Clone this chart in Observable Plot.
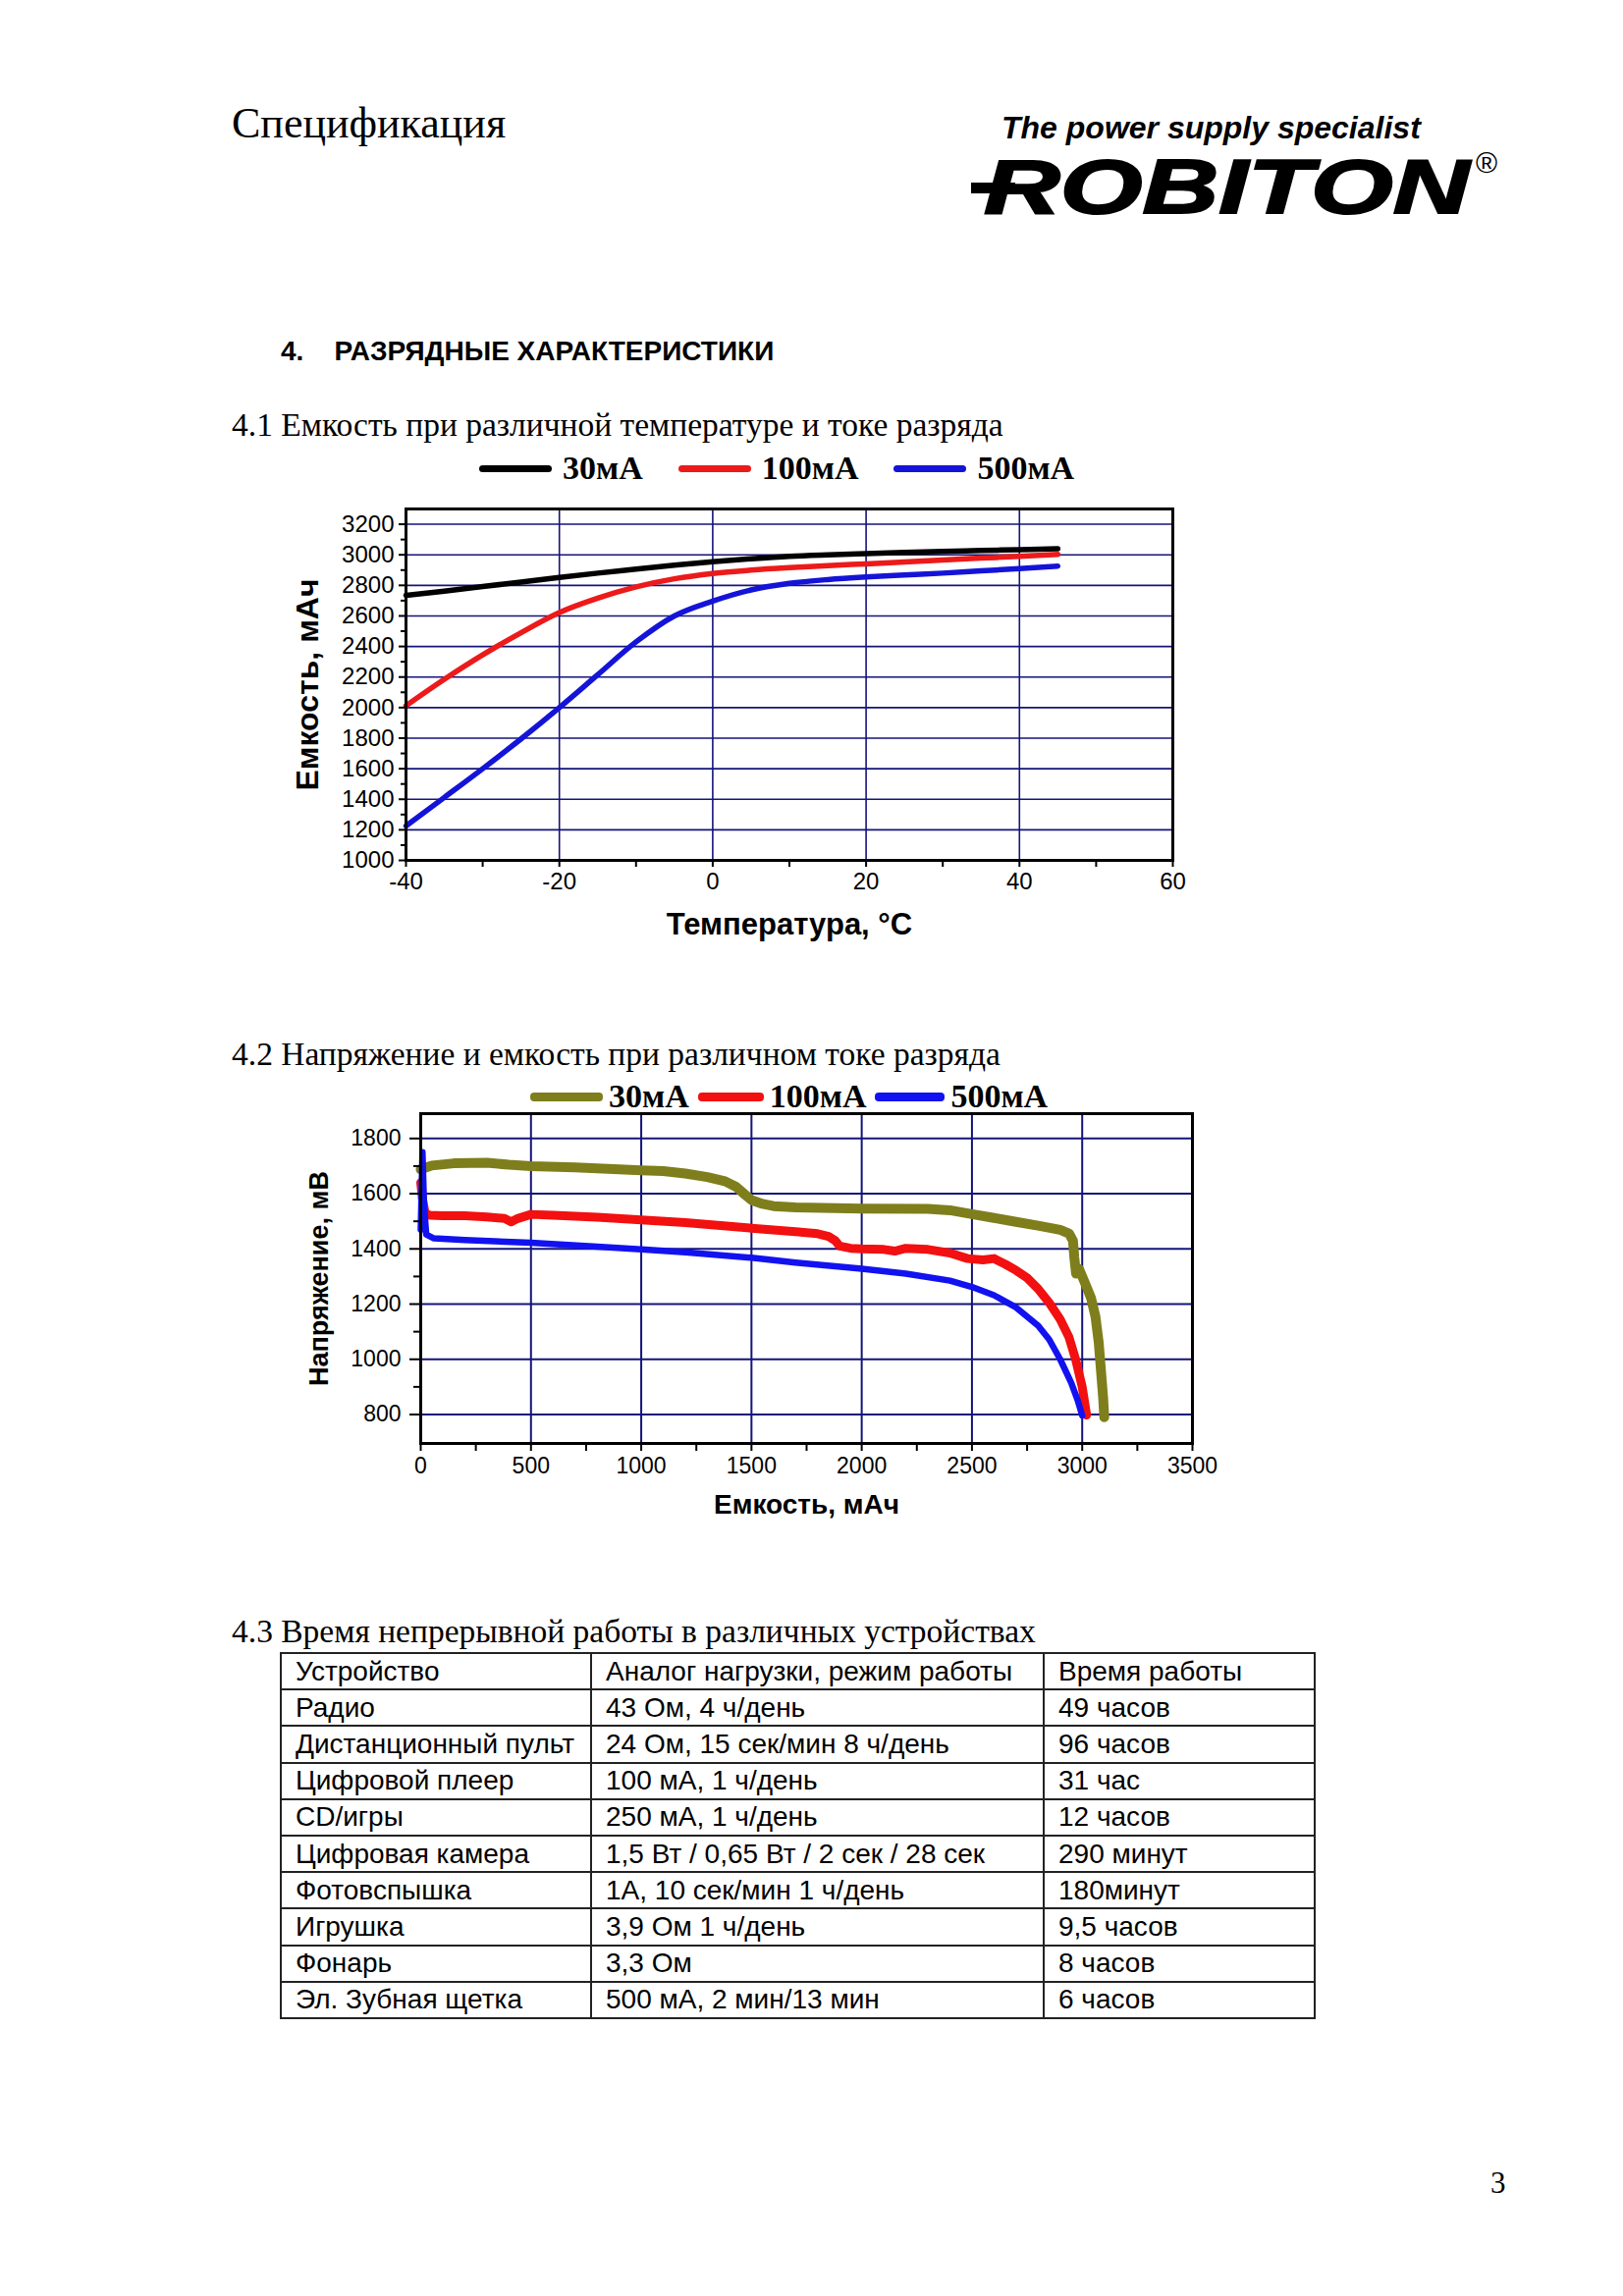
<!DOCTYPE html>
<html><head><meta charset="utf-8">
<script src="https://cdn.jsdelivr.net/npm/d3@7"></script>
<script src="https://cdn.jsdelivr.net/npm/@observablehq/plot@0.6"></script>
<style>
body{margin:0;background:#fff;}
#page{position:relative;width:1653px;height:2339px;background:#fff;overflow:hidden;color:#000;}
.abs{position:absolute;white-space:nowrap;line-height:1;}
.serif{font-family:"Liberation Serif","Times New Roman",serif;}
.sans{font-family:"Liberation Sans",Arial,sans-serif;}
.legend{position:absolute;display:flex;align-items:center;font-family:"Liberation Serif","Times New Roman",serif;font-weight:bold;font-size:34px;line-height:1;}
.legend .sw{border-radius:4px;}
.chart{position:absolute;}
table.dev{position:absolute;border-collapse:collapse;font-family:"Liberation Sans",Arial,sans-serif;font-size:28px;}
table.dev td{border:2px solid #222;height:37.2px;padding:0 0 0 14px;line-height:1;white-space:nowrap;vertical-align:middle;box-sizing:border-box;}
</style></head>
<body><div id="page">
<div class="abs serif" style="left:236px;top:104px;font-size:44px;">Спецификация</div>
<div class="abs sans" style="left:1020px;top:114px;font-size:32px;font-weight:bold;font-style:italic;">The power supply specialist</div>
<div class="abs" style="left:989px;top:186px;width:45px;height:11px;background:#000;"></div>
<div class="abs sans" style="left:1002px;top:151px;font-size:78px;font-weight:900;font-style:italic;transform:scaleX(1.38);transform-origin:left top;-webkit-text-stroke:2px #000;">ROBITON</div>
<div class="abs sans" style="left:1503px;top:151px;font-size:30px;">®</div>
<div class="abs sans" style="left:286px;top:344px;font-size:28px;font-weight:bold;">4.&nbsp;&nbsp;&nbsp;&nbsp;РАЗРЯДНЫЕ ХАРАКТЕРИСТИКИ</div>
<div class="abs serif" style="left:236px;top:416px;font-size:33.5px;">4.1 Емкость при различной температуре и токе разряда</div>
<div class="abs serif" style="left:236px;top:1057px;font-size:33.5px;">4.2 Напряжение и емкость при различном токе разряда</div>
<div class="abs serif" style="left:236px;top:1645px;font-size:33.5px;">4.3 Время непрерывной работы в различных устройствах</div>
<div class="abs serif" style="left:1518px;top:2208px;font-size:31px;">3</div>
<div id="legend1" class="legend" style="left:488px;top:460px;"></div>
<div id="chart1" class="chart" style="left:280px;top:490px;"></div>
<div id="legend2" class="legend" style="left:540px;top:1100px;"></div>
<div id="chart2" class="chart" style="left:280px;top:1124px;"></div>
<table class="dev" id="devtable" style="left:285px;top:1683px;"></table>
</div>
<script>
// ---------- Chart 4.1 data ----------
const temperature = [-40,-35,-30,-25,-20,-15,-10,-5,0,5,10,15,20,25,30,35,40,45];
const cap30mA  = [2735,2762,2792,2822,2852,2880,2906,2932,2955,2974,2990,3000,3008,3015,3022,3028,3034,3040];
const cap100mA = [2012,2185,2345,2490,2622,2716,2790,2843,2878,2900,2916,2929,2941,2953,2966,2978,2990,3003];
const cap500mA = [1225,1412,1600,1795,2000,2215,2430,2600,2697,2770,2813,2838,2855,2868,2880,2895,2910,2926];
const series = ["30мА","100мА","500мА"];
const colors1 = ["#000000","#ec1a1a","#1414d8"];
const xTicks1 = [-40,-20,0,20,40,60];
const xMinor1 = [-30,-10,10,30,50];
const yTicks1 = [1000,1200,1400,1600,1800,2000,2200,2400,2600,2800,3000,3200];
const yMinor1 = [1100,1300,1500,1700,1900,2100,2300,2500,2700,2900,3100];
const xLabel1 = "Температура, °C";
const yLabel1 = "Емкость, мАч";

// ---------- Chart 4.2 data ----------
const cap30x  = [0,50,150,300,400,500,700,900,1000,1100,1200,1300,1380,1430,1470,1500,1550,1600,1700,2000,2300,2400,2500,2600,2700,2800,2900,2940,2958,2964,2972,2985,3000,3020,3040,3060,3075,3085,3095,3100];
const volt30  = [1688,1702,1710,1712,1705,1700,1695,1688,1685,1682,1673,1660,1645,1625,1597,1577,1563,1555,1550,1546,1545,1540,1526,1512,1498,1484,1469,1456,1430,1370,1310,1328,1300,1262,1222,1155,1060,960,860,790];
const cap100x = [0,8,20,40,100,200,300,380,410,440,500,600,800,1000,1200,1400,1500,1700,1800,1850,1880,1900,1950,2000,2100,2150,2200,2300,2400,2480,2550,2600,2650,2700,2750,2800,2850,2900,2940,2970,3000,3020];
const volt100 = [1640,1580,1530,1522,1520,1520,1516,1510,1498,1510,1525,1522,1515,1505,1495,1482,1475,1462,1455,1445,1430,1410,1402,1400,1398,1392,1402,1398,1385,1365,1360,1365,1345,1322,1295,1255,1205,1145,1080,1000,900,798];
const cap500x = [0,8,15,25,60,200,500,800,1000,1200,1500,1700,2000,2200,2400,2500,2600,2700,2800,2850,2900,2950,2980,3000];
const volt500 = [1470,1750,1560,1452,1438,1432,1422,1408,1398,1388,1368,1350,1328,1310,1285,1262,1232,1188,1122,1072,1000,915,850,796];
const colors2 = ["#7e7e1c","#f21010","#1212f0"];
const xTicks2 = [0,500,1000,1500,2000,2500,3000,3500];
const xMinor2 = [250,750,1250,1750,2250,2750,3250];
const yTicks2 = [800,1000,1200,1400,1600,1800];
const yMinor2 = [900,1100,1300,1500,1700];
const xLabel2 = "Емкость, мАч";
const yLabel2 = "Напряжение, мВ";

// ---------- Table data ----------
const tableHeader = ["Устройство","Аналог нагрузки, режим работы","Время работы"];
const devices = ["Радио","Дистанционный пульт","Цифровой плеер","CD/игры","Цифровая камера","Фотовспышка","Игрушка","Фонарь","Эл. Зубная щетка"];
const loads = ["43 Ом, 4 ч/день","24 Ом, 15 сек/мин 8 ч/день","100 мА, 1 ч/день","250 мА, 1 ч/день","1,5 Вт / 0,65 Вт / 2 сек / 28 сек","1А, 10 сек/мин 1 ч/день","3,9 Ом 1 ч/день","3,3 Ом","500 мА, 2 мин/13 мин"];
const runtimes = ["49 часов","96 часов","31 час","12 часов","290 минут","180минут","9,5 часов","8 часов","6 часов"];

// ---------- helpers ----------
const tickFont = '"Liberation Sans", Arial, sans-serif';
const gridColor = "#14147a";

function legend(el, colors, swWidths, swH, gapText, gapItem) {
  series.forEach((s, i) => {
    const item = document.createElement("div");
    item.style.display = "flex"; item.style.alignItems = "center";
    item.style.marginRight = gapItem + "px";
    const sw = document.createElement("div");
    sw.className = "sw";
    sw.style.width = swWidths[i] + "px"; sw.style.height = swH + "px"; sw.style.background = colors[i];
    sw.style.marginRight = gapText + "px";
    const t = document.createElement("span"); t.textContent = s;
    item.appendChild(sw); item.appendChild(t);
    el.appendChild(item);
  });
}

// ---------- Chart 1 ----------
const rows1 = temperature.flatMap((t, i) => [
  {t, v: cap30mA[i], s: series[0]},
  {t, v: cap100mA[i], s: series[1]},
  {t, v: cap500mA[i], s: series[2]}
]);
const chart1 = Plot.plot({
  width: 960, height: 480,
  marginLeft: 133, marginRight: 46, marginTop: 28, marginBottom: 94,
  x: {domain: [-40, 60], label: null},
  y: {domain: [1000, 3300], label: null},
  color: {domain: series, range: colors1},
  style: {fontFamily: tickFont, fontSize: "24px", color: "#000", background: "transparent"},
  marks: [
    Plot.gridY(yTicks1.filter(v => v > 1000), {stroke: gridColor, strokeOpacity: 1, strokeWidth: 1.6}),
    Plot.gridX(xTicks1.filter(v => v > -40 && v < 60), {stroke: gridColor, strokeOpacity: 1, strokeWidth: 1.6}),
    Plot.line(rows1, {x: "t", y: "v", z: "s", stroke: "s", strokeWidth: 5.5, curve: "monotone-x"}),
    Plot.frame({stroke: "#000", strokeWidth: 3}),
    Plot.axisY(yTicks1, {label: null, tickSize: 7, tickPadding: 5, tickFormat: d => String(d), strokeWidth: 2}),
    Plot.axisY(yMinor1, {label: null, tickSize: 5, tickFormat: () => "", strokeWidth: 2}),
    Plot.axisX(xTicks1, {label: null, tickSize: 7, tickPadding: 5, tickFormat: d => String(d), strokeWidth: 2}),
    Plot.axisX(xMinor1, {label: null, tickSize: 7, tickFormat: () => "", strokeWidth: 2}),
    Plot.text([yLabel1], {text: d => d, frameAnchor: "left", textAnchor: "middle", rotate: -90, dx: -100, fontSize: 32, fontWeight: "bold", fontFamily: tickFont}),
    Plot.text([xLabel1], {text: d => d, frameAnchor: "bottom", dy: 75, fontSize: 31, fontWeight: "bold", fontFamily: tickFont})
  ]
});
document.getElementById("chart1").appendChild(chart1);
legend(document.getElementById("legend1"), colors1, [74, 74, 74], 7, 11, 36);

// ---------- Chart 2 ----------
const rows2 = [
  ...cap30x.map((c, i) => ({c, v: volt30[i], s: series[0]})),
  ...cap100x.map((c, i) => ({c, v: volt100[i], s: series[1]})),
  ...cap500x.map((c, i) => ({c, v: volt500[i], s: series[2]}))
];
const widths2 = {"30мА": 10, "100мА": 9, "500мА": 6.5};
const chart2 = Plot.plot({
  width: 960, height: 436,
  marginLeft: 148, marginRight: 26, marginTop: 10, marginBottom: 90,
  x: {domain: [0, 3500], label: null},
  y: {domain: [695, 1890], label: null},
  color: {domain: series, range: colors2},
  style: {fontFamily: tickFont, fontSize: "23px", color: "#000", background: "transparent"},
  marks: [
    Plot.gridY(yTicks2, {stroke: gridColor, strokeOpacity: 1, strokeWidth: 2}),
    Plot.gridX(xTicks2.filter(v => v > 0 && v < 3500), {stroke: gridColor, strokeOpacity: 1, strokeWidth: 2}),
    ...series.map(s => Plot.line(rows2.filter(d => d.s === s), {x: "c", y: "v", stroke: "s", strokeWidth: widths2[s], strokeLinejoin: "round"})),
    Plot.frame({stroke: "#000", strokeWidth: 3}),
    Plot.axisY(yTicks2, {label: null, tickSize: 11, tickPadding: 9, tickFormat: d => String(d), strokeWidth: 2}),
    Plot.axisY(yMinor2, {label: null, tickSize: 7, tickFormat: () => "", strokeWidth: 2}),
    Plot.axisX(xTicks2, {label: null, tickSize: 8, tickPadding: 6, tickFormat: d => String(d), strokeWidth: 2}),
    Plot.axisX(xMinor2, {label: null, tickSize: 8, tickFormat: () => "", strokeWidth: 2}),
    Plot.text([yLabel2], {text: d => d, frameAnchor: "left", textAnchor: "middle", rotate: -90, dx: -103, fontSize: 27, fontWeight: "bold", fontFamily: tickFont}),
    Plot.text([xLabel2], {text: d => d, frameAnchor: "bottom", dy: 71, fontSize: 28, fontWeight: "bold", fontFamily: tickFont})
  ]
});
document.getElementById("chart2").appendChild(chart2);
legend(document.getElementById("legend2"), colors2, [74, 67, 71], 9, 6, 9);

// ---------- Table ----------
const tbl = document.getElementById("devtable");
const colW = [316, 461, 276];
const allRows = [tableHeader, ...devices.map((d, i) => [d, loads[i], runtimes[i]])];
allRows.forEach(r => {
  const tr = document.createElement("tr");
  r.forEach((c, j) => {
    const td = document.createElement("td");
    td.textContent = c;
    td.style.width = colW[j] + "px";
    tr.appendChild(td);
  });
  tbl.appendChild(tr);
});
</script>
</body></html>
